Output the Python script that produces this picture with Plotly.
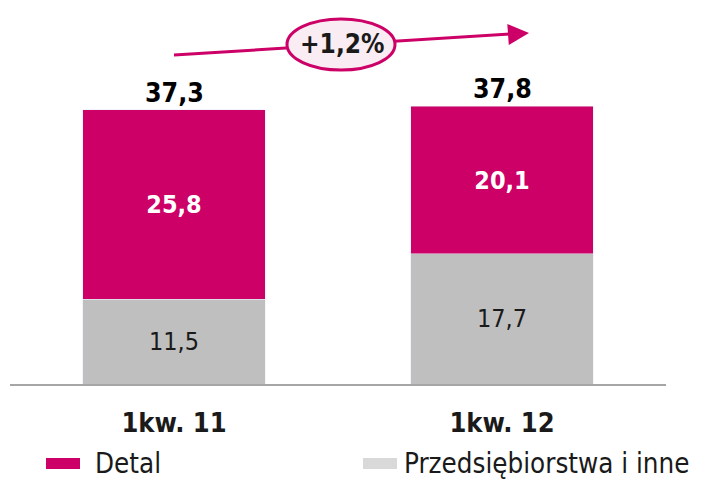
import plotly.graph_objects as go

categories = ["1kw. 11", "1kw. 12"]
detal = [25.8, 20.1]
przeds = [11.5, 17.7]
series_names = ["Detal", "Przedsiębiorstwa i inne"]
change_label = "+1,2%"

totals = [round(a + b, 1) for a, b in zip(detal, przeds)]

MAGENTA = "#CC0066"
GRAY = "#BFBFBF"
LEG_GRAY = "#D9D9D9"
FONT = "DejaVu Sans Condensed, DejaVu Sans"

OFF = 8                     # page body margin in the viewer
W, H = 711 - OFF, 480 - OFF
# plot area in target-picture pixels
L, R, T, B = 10, 666, OFF, 384


def px(x):
    return (x - L) / (R - L)


def py(y):
    return (B - y) / (B - T)


xs = list(range(len(categories)))

fig = go.Figure()
fig.add_trace(go.Bar(
    x=xs, y=przeds, name=series_names[1], marker_color=GRAY,
    text=przeds, texttemplate="%{text:.1f}", textposition="inside",
    insidetextanchor="middle",
    textfont=dict(family=FONT, size=25, color="#1a1a1a"),
))
fig.add_trace(go.Bar(
    x=xs, y=detal, name=series_names[0], marker_color=MAGENTA,
    text=detal, texttemplate="<b>%{text:.1f}</b>", textposition="inside",
    insidetextanchor="middle",
    textfont=dict(family=FONT, size=26, color="white"),
))

for i, t in enumerate(totals):
    fig.add_annotation(x=xs[i], y=t, text="<b>%s</b>" % f"{t:.1f}".replace(".", ","),
                       showarrow=False, yanchor="bottom", yshift=0,
                       font=dict(family=FONT, size=26.5, color="black"))

# growth arrow
fig.add_shape(type="line", xref="paper", yref="paper",
              x0=px(174), y0=py(55), x1=px(518), y1=py(33.6),
              line=dict(color=MAGENTA, width=3))
fig.add_annotation(xref="paper", yref="paper", axref="pixel", ayref="pixel",
                   x=px(529), y=py(33), ax=-14, ay=1, text="",
                   showarrow=True, arrowhead=2, arrowsize=1.4, arrowwidth=3,
                   arrowcolor=MAGENTA)
fig.add_shape(type="circle", xref="paper", yref="paper",
              x0=px(287), x1=px(395), y0=py(70), y1=py(19),
              fillcolor="#F9ECF2", line=dict(color=MAGENTA, width=3))
fig.add_annotation(xref="paper", yref="paper", x=px(342), y=py(44),
                   xanchor="center", yanchor="middle",
                   text="<b>%s</b>" % change_label, showarrow=False,
                   font=dict(family=FONT, size=26, color="#1a1a1a"))

# manual legend
legend_items = [(series_names[0], MAGENTA, 46, 80, 93),
                (series_names[1], LEG_GRAY, 363, 397, 402)]
for name, col, x0, x1, tx in legend_items:
    fig.add_shape(type="rect", xref="paper", yref="paper",
                  x0=px(x0), x1=px(x1), y0=py(469), y1=py(458),
                  fillcolor=col, line=dict(width=0))
    fig.add_annotation(xref="paper", yref="paper", x=px(tx), y=py(463),
                       xanchor="left", yanchor="middle",
                       text=name, showarrow=False,
                       font=dict(family=FONT, size=27.5, color="#1a1a1a"))

fig.update_layout(
    width=W, height=H, barmode="stack", bargap=0.445,
    separators=", ",
    showlegend=False,
    plot_bgcolor="white", paper_bgcolor="white",
    margin=dict(l=L - OFF, r=W - (R - OFF), t=T - OFF, b=H - (B - OFF),
                autoexpand=False),
    font=dict(family=FONT),
    uniformtext=dict(mode="show", minsize=10),
)
fig.update_xaxes(range=[-0.5, len(categories) - 0.5], tickvals=xs,
                 ticktext=["<b>%s</b>" % c for c in categories],
                 tickfont=dict(family=FONT, size=27, color="#1a1a1a"),
                 showline=True, linecolor="#A6A6A6", linewidth=1.5,
                 showgrid=False, zeroline=False, ticks="", ticklabelstandoff=14,
                 automargin=False)
fig.update_yaxes(range=[0, (B - T) / 7.35], visible=False, showgrid=False,
                 automargin=False)

fig.write_html("out.html")
